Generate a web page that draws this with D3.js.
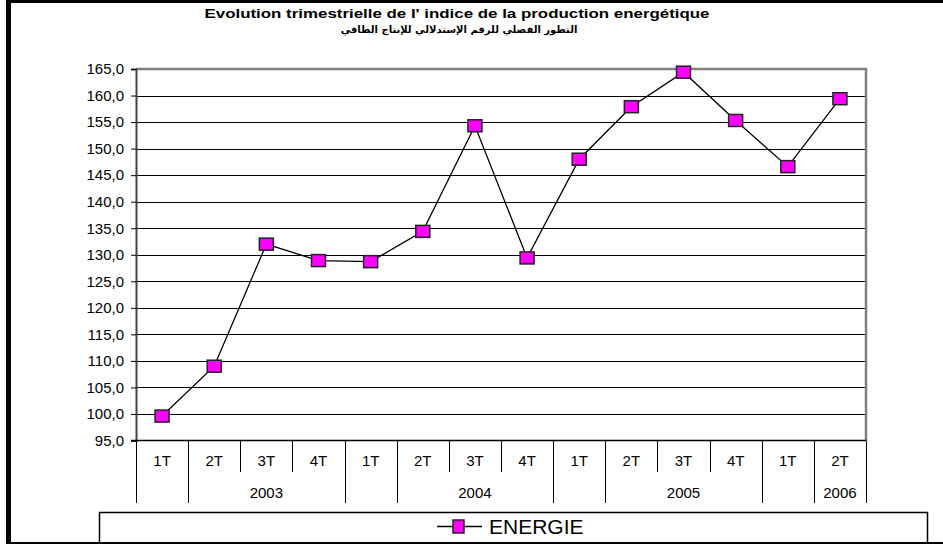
<!DOCTYPE html>
<html>
<head>
<meta charset="utf-8">
<script src="https://cdn.jsdelivr.net/npm/d3@7"></script>
<style>
  body { margin: 0; background: #fff; }
  svg { display: block; font-family: Arial, "Liberation Sans", sans-serif; }
</style>
</head>
<body>
<div class="viz"></div>
<script>
// quarterly energy production index
const quarters = ['1T', '2T', '3T', '4T', '1T', '2T', '3T', '4T', '1T', '2T', '3T', '4T', '1T', '2T']
const energie = [99.6, 109.0, 132.0, 128.9, 128.7, 134.4, 154.3, 129.4, 148.0, 157.9, 164.4, 155.3, 146.6, 159.4]
// second row of the category axis: label + how many quarters it covers
const yearLabels = ['', '2003', '', '2004', '', '2005', '', '2006']
const yearSpans = [1, 3, 1, 3, 1, 3, 1, 1]
const yTicks = [95, 100, 105, 110, 115, 120, 125, 130, 135, 140, 145, 150, 155, 160, 165]

const width = 943
const height = 544
const plot = { left: 136, right: 866, top: 69, bottom: 440.5 }

const svg = d3.select('.viz')
  .append('svg')
  .attr('width', width)
  .attr('height', height)

const x = d3.scaleBand()
  .domain(d3.range(quarters.length))
  .range([plot.left, plot.right])
  .padding(0)

const y = d3.scaleLinear()
  .domain([95, 165])
  .range([plot.bottom, plot.top])

const fmt = d => d.toFixed(1).replace('.', ',')

// outer frame (only top, left, bottom show in the picture)
svg.append('rect').attr('x', 6).attr('y', 0).attr('width', 5).attr('height', height).attr('fill', '#000')
svg.append('rect').attr('x', 6).attr('y', 0).attr('width', width).attr('height', 3).attr('fill', '#000')
svg.append('rect').attr('x', 6).attr('y', 542).attr('width', width).attr('height', 2).attr('fill', '#000')

// titles
svg.append('text')
  .text("Evolution trimestrielle de l' indice de la production energétique")
  .attr('x', 457)
  .attr('y', 18)
  .attr('text-anchor', 'middle')
  .attr('font-weight', 'bold')
  .attr('font-size', 13)
  .attr('textLength', 505)
  .attr('lengthAdjust', 'spacingAndGlyphs')

svg.append('text')
  .text('التطور الفصلي للرقم الإستدلالي للإنتاج الطاقي')
  .attr('x', 459)
  .attr('y', 33)
  .attr('text-anchor', 'middle')
  .attr('font-weight', 'bold')
  .attr('font-size', 10)
  .style('font-family', '"DejaVu Sans", sans-serif')

// gridlines
svg.append('g')
  .selectAll('line')
  .data(yTicks.filter(t => t > 95 && t < 165))
  .enter()
  .append('line')
  .attr('x1', plot.left)
  .attr('x2', plot.right)
  .attr('y1', d => Math.round(y(d)) + 0.5)
  .attr('y2', d => Math.round(y(d)) + 0.5)
  .attr('stroke', '#000')
  .attr('stroke-width', 1)

// plot border top / right
svg.append('path')
  .attr('d', `M${plot.left},${plot.top} H${plot.right} V${plot.bottom}`)
  .attr('fill', 'none')
  .attr('stroke', '#808080')
  .attr('stroke-width', 2.5)

// y axis
const yAxis = svg.append('g')
  .attr('transform', `translate(${plot.left},0)`)
  .call(d3.axisLeft(y).tickValues(yTicks).tickFormat(fmt).tickSize(5).tickPadding(7))
yAxis.select('.domain').attr('stroke', '#444').attr('stroke-width', 2)
yAxis.selectAll('.tick line').attr('stroke', '#000')
yAxis.selectAll('text')
  .attr('font-size', 15)
  .attr('font-family', 'Arial, "Liberation Sans", sans-serif')
  .attr('fill', '#000')

// category axis line
svg.append('line')
  .attr('x1', plot.left - 5)
  .attr('x2', plot.right)
  .attr('y1', plot.bottom)
  .attr('y2', plot.bottom)
  .attr('stroke', '#000')
  .attr('stroke-width', 1.5)

// year group boundaries (as band indexes)
const yearEdges = [0]
yearSpans.forEach(s => yearEdges.push(yearEdges[yearEdges.length - 1] + s))
const edgeX = i => (i === quarters.length ? plot.right : x(i))

// quarter separators (short) and year separators (long)
svg.append('g')
  .selectAll('line')
  .data(d3.range(quarters.length + 1))
  .enter()
  .append('line')
  .attr('x1', d => Math.round(edgeX(d)) + 0.5)
  .attr('x2', d => Math.round(edgeX(d)) + 0.5)
  .attr('y1', plot.bottom)
  .attr('y2', d => yearEdges.includes(d) ? 503 : 472)
  .attr('stroke', '#000')
  .attr('stroke-width', 1)

svg.append('g')
  .selectAll('text')
  .data(quarters)
  .enter()
  .append('text')
  .text(d => d)
  .attr('x', (d, i) => x(i) + x.bandwidth() / 2)
  .attr('y', 466)
  .attr('text-anchor', 'middle')
  .attr('font-size', 15)

svg.append('g')
  .selectAll('text')
  .data(yearLabels)
  .enter()
  .append('text')
  .text(d => d)
  .attr('x', (d, i) => (edgeX(yearEdges[i]) + edgeX(yearEdges[i + 1])) / 2)
  .attr('y', 498)
  .attr('text-anchor', 'middle')
  .attr('font-size', 15)

// series line + markers
const line = d3.line()
  .x((d, i) => x(i) + x.bandwidth() / 2)
  .y(d => y(d))

svg.append('path')
  .datum(energie)
  .attr('d', line)
  .attr('fill', 'none')
  .attr('stroke', '#000')
  .attr('stroke-width', 1.3)

svg.append('g')
  .selectAll('rect')
  .data(energie)
  .enter()
  .append('rect')
  .attr('x', (d, i) => x(i) + x.bandwidth() / 2 - 7)
  .attr('y', d => y(d) - 6)
  .attr('width', 14)
  .attr('height', 12)
  .attr('fill', '#ff00ff')
  .attr('stroke', '#222')
  .attr('stroke-width', 1.5)

// legend
svg.append('rect')
  .attr('x', 99.5)
  .attr('y', 512.5)
  .attr('width', 828)
  .attr('height', 40)
  .attr('fill', 'none')
  .attr('stroke', '#000')
  .attr('stroke-width', 1.5)

svg.append('line')
  .attr('x1', 437)
  .attr('x2', 482)
  .attr('y1', 526.5)
  .attr('y2', 526.5)
  .attr('stroke', '#000')
  .attr('stroke-width', 1.3)

svg.append('rect')
  .attr('x', 453)
  .attr('y', 520)
  .attr('width', 11)
  .attr('height', 13)
  .attr('fill', '#ff00ff')
  .attr('stroke', '#222')
  .attr('stroke-width', 1.5)

svg.append('text')
  .text('ENERGIE')
  .attr('x', 489)
  .attr('y', 534)
  .attr('font-size', 21)
</script>
</body>
</html>
